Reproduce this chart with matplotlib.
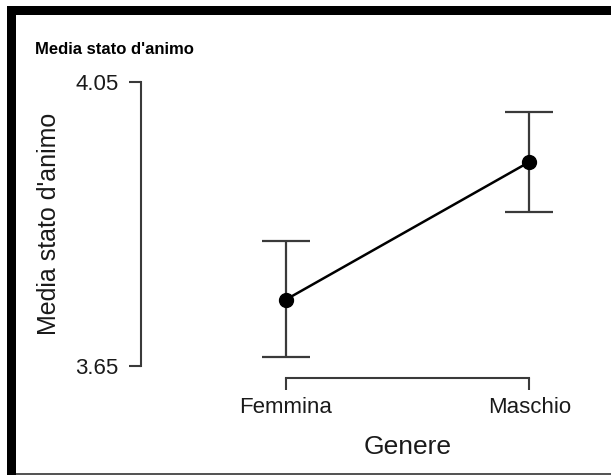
import matplotlib
matplotlib.use("Agg")
import matplotlib.pyplot as plt
from matplotlib.patches import Rectangle

plt.rcParams['font.family'] = ['Liberation Sans', 'DejaVu Sans']

# data
genere = ['Femmina', 'Maschio']
media = [3.743, 3.937]
ci_low = [3.663, 3.867]
ci_high = [3.825, 4.007]
y_ticks = [3.65, 4.05]
y_ticklabels = ['3.65', '4.05']

W, H = 611, 475
fig = plt.figure(figsize=(W / 100, H / 100), dpi=100)

# axes box in pixels (left, top, right, bottom)
left, top, right, bottom = 141, 81.7, 600, 378.3
ax = fig.add_axes([left / W, 1 - bottom / H, (right - left) / W, (bottom - top) / H])

x = list(range(len(genere)))
err = [[m - lo for m, lo in zip(media, ci_low)],
       [hi - m for m, hi in zip(media, ci_high)]]

axis_col = '#3a3a3a'
ax.errorbar(x, media, yerr=err, fmt='none', ecolor=axis_col,
            elinewidth=1.6, capsize=17.3, capthick=1.6, zorder=2)
ax.plot(x, media, '-o', color='black', lw=1.8, markersize=10, zorder=3)

ax.set_xlim(-0.594, 1.290)
ax.set_ylim(3.6323, 4.05)

ax.set_xticks(x)
ax.set_xticklabels(genere)
ax.set_yticks(y_ticks)
ax.set_yticklabels(y_ticklabels)

for side in ['top', 'right']:
    ax.spines[side].set_visible(False)
for side in ['left', 'bottom']:
    ax.spines[side].set_color(axis_col)
    ax.spines[side].set_linewidth(1.5)
ax.spines['left'].set_bounds(3.65, 4.05)
ax.spines['bottom'].set_bounds(0, 1)

ax.tick_params(axis='both', direction='out', length=8.3, width=1.5,
               color=axis_col, labelsize=16, labelcolor='#1a1a1a')
ax.tick_params(axis='y', pad=8)
ax.tick_params(axis='x', pad=5.5)
ax.patch.set_visible(False)

# labels and title
fig.text(49.5 / W, 1 - 224.2 / H, "Media stato d'animo", rotation=90,
         ha='center', va='center', fontsize=18, color='#1a1a1a')
fig.text(407.5 / W, 1 - 454 / H, 'Genere', ha='center', va='baseline',
         fontsize=19, color='#1a1a1a')
fig.text(35 / W, 1 - 49.3 / H, "Media stato d'animo", ha='left', va='center',
         fontsize=12, fontweight='bold', color='black')

# black frame around the picture
fig.add_artist(Rectangle((7 / W, 1 - 15 / H), (W - 7) / W, 9 / H,
                         transform=fig.transFigure, color='black', lw=0))
fig.add_artist(Rectangle((7 / W, 0), 9 / W, (H - 6) / H,
                         transform=fig.transFigure, color='black', lw=0))
fig.add_artist(Rectangle((16 / W, 0), (W - 16) / W, 2.3 / H,
                         transform=fig.transFigure, color='#555555', lw=0))

fig.savefig('out.png', dpi=100)
